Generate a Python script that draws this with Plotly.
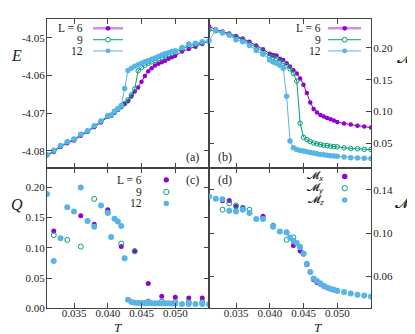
import plotly.graph_objects as go

PURPLE = "#9400D3"
GREEN = "#009E73"
BLUE = "#56B4E9"
FRAME = "#444444"
FONT = "Liberation Serif"
MFONT = "DejaVu Sans"

W, H = 415, 334

# common temperature grid
T = [0.031, 0.032, 0.033, 0.034, 0.035, 0.036, 0.037, 0.038, 0.039, 0.040,
     0.0405, 0.041, 0.0415, 0.042, 0.0425, 0.043, 0.0435, 0.044, 0.0445, 0.045,
     0.0455, 0.046, 0.0465, 0.047, 0.0475, 0.048, 0.0485, 0.049, 0.0495, 0.050,
     0.051, 0.052, 0.053, 0.054, 0.055]

# (a) energy
E6 = [-4.0812, -4.0803, -4.0790, -4.0780, -4.0773, -4.0760, -4.0750, -4.0738, -4.0725, -4.0710,
      -4.0707, -4.0699, -4.0692, -4.0684, -4.0676, -4.0669, -4.0656, -4.0643, -4.0632, -4.0617,
      -4.0602, -4.0589, -4.0581, -4.0574, -4.0569, -4.0565, -4.0561, -4.0556, -4.0552, -4.0548,
      -4.0537, -4.0530, -4.0524, -4.0517, -4.0509]
E9 = [-4.0811, -4.0800, -4.0788, -4.0777, -4.0770, -4.0757, -4.0748, -4.0735, -4.0722, -4.0708,
      -4.0706, -4.0697, -4.0690, -4.0682, -4.0675, -4.0665, -4.0652, -4.0636, -4.0588, -4.0579,
      -4.0573, -4.0568, -4.0564, -4.0560, -4.0556, -4.0552, -4.0548, -4.0545, -4.0542, -4.0539,
      -4.0530, -4.0522, -4.0518, -4.0514, -4.0510]
E12 = [-4.0811, -4.0799, -4.0786, -4.0776, -4.0769, -4.0756, -4.0747, -4.0734, -4.0721, -4.0707,
       -4.0705, -4.0695, -4.0688, -4.0680, -4.0635, -4.0587, -4.0581, -4.0576, -4.0572, -4.0568,
       -4.0564, -4.0561, -4.0557, -4.0554, -4.0550, -4.0546, -4.0543, -4.0540, -4.0537, -4.0535,
       -4.0526, -4.0517, -4.0515, -4.0511, -4.0509]

# (b) magnetisation
M6 = [0.234, 0.229, 0.226, 0.223, 0.219, 0.215, 0.210, 0.204, 0.198, 0.191,
      0.189, 0.188, 0.183, 0.181, 0.176, 0.171, 0.165, 0.160, 0.152, 0.142,
      0.129, 0.114, 0.104, 0.0985, 0.0946, 0.092, 0.0897, 0.0877, 0.0856, 0.0835,
      0.081, 0.0794, 0.0773, 0.0763, 0.0746]
M9 = [0.229, 0.227, 0.224, 0.221, 0.217, 0.213, 0.207, 0.201, 0.195, 0.187,
      0.185, 0.183, 0.179, 0.176, 0.172, 0.167, 0.160, 0.148, 0.0814, 0.0592,
      0.0556, 0.0525, 0.0504, 0.0489, 0.0478, 0.0467, 0.0463, 0.0452, 0.0447, 0.0443,
      0.0427, 0.0416, 0.0412, 0.0404, 0.0400]
M12 = [0.212, 0.228, 0.224, 0.220, 0.213, 0.210, 0.204, 0.196, 0.190, 0.181,
       0.178, 0.176, 0.173, 0.168, 0.124, 0.0535, 0.0427, 0.0400, 0.0386, 0.0375,
       0.0366, 0.0355, 0.0345, 0.0335, 0.0323, 0.0316, 0.0310, 0.0303, 0.0298, 0.0293,
       0.0282, 0.0272, 0.0267, 0.0262, 0.0257]

# (c) Q
Q6_T = [0.032, 0.036, 0.038, 0.040, 0.042, 0.044, 0.046, 0.048, 0.050, 0.052, 0.054]
Q6 = [0.128, 0.153, 0.139, 0.163, 0.102, 0.095, 0.041, 0.020, 0.018, 0.017, 0.017]
Q9_T = [0.032, 0.034, 0.036, 0.038, 0.040, 0.042, 0.044, 0.046, 0.048, 0.050, 0.052, 0.054]
Q9 = [0.121, 0.113, 0.102, 0.181, 0.159, 0.107, 0.094, 0.011, 0.011, 0.010, 0.010, 0.010]
Q12 = [0.189, 0.078, 0.116, 0.167, 0.160, 0.200, 0.1445, 0.135, 0.170, 0.1575,
       0.118, 0.148, 0.1435, 0.136, 0.0826, 0.014, 0.0104, 0.009, 0.0085, 0.0085,
       0.0085, 0.0085, 0.008, 0.008, 0.008, 0.008, 0.008, 0.008, 0.0078, 0.0078,
       0.007, 0.007, 0.0068, 0.0068, 0.0065]

# (d) components
MZ_T = [0.031, 0.032, 0.033, 0.034, 0.035, 0.036, 0.037, 0.038, 0.039, 0.0405,
        0.0415, 0.0425, 0.043, 0.0435, 0.044, 0.0445, 0.045, 0.0455, 0.046, 0.0465,
        0.047, 0.0475, 0.048, 0.0485, 0.049, 0.0495, 0.050, 0.051, 0.052, 0.053,
        0.054, 0.055]
MZ = [0.1337, 0.1316, 0.1312, 0.1207, 0.1200, 0.1216, 0.1186, 0.1131, 0.1131, 0.1059,
      0.1014, 0.1005, 0.0959, 0.0930, 0.0909, 0.0869, 0.0809, 0.0718, 0.0642, 0.0582,
      0.0557, 0.0537, 0.0515, 0.0497, 0.0486, 0.0477, 0.0468, 0.0456, 0.0443, 0.0432,
      0.0425, 0.0416]
MX_T = [0.033, 0.034, 0.035, 0.036, 0.039, 0.0425, 0.0435, 0.0445, 0.045, 0.0455,
        0.046, 0.0465, 0.047, 0.0475, 0.048, 0.0485, 0.049, 0.0495, 0.050]
MX = [0.1298, 0.1300, 0.1246, 0.1237, 0.1156, 0.1010, 0.0886, 0.0835, 0.0815, 0.0710,
      0.0640, 0.0570, 0.0545, 0.0528, 0.0510, 0.0495, 0.0484, 0.0475, 0.0466]
MY_T = [0.033, 0.034, 0.035, 0.036, 0.037, 0.0405, 0.0425, 0.0435, 0.0445, 0.045]
MY = [0.1216, 0.1275, 0.1255, 0.1225, 0.1215, 0.1068, 0.0938, 0.0960, 0.0872, 0.0810]

XTICKS = [0.035, 0.040, 0.045, 0.050]
XTICKTEXT = ["0.035", "0.040", "0.045", "0.050"]
ETICKS = [-4.08, -4.07, -4.06, -4.05]
ETICKTEXT = ["-4.08", "-4.07", "-4.06", "-4.05"]
MTICKS = [0.05, 0.10, 0.15, 0.20]
QTICKS = [0.00, 0.05, 0.10, 0.15, 0.20]
MITICKS = [0.06, 0.10, 0.14]


def px_x(p):
    return p / W


def px_y(p):
    return 1 - p / H


XL = [px_x(39), px_x(201)]
XR = [px_x(201), px_x(363)]
YT = [px_y(163), px_y(11)]
YB = [px_y(305.7), px_y(163)]

fig = go.Figure()


def line_trace(x, y, color, sym, size, xa, ya, lw=1.0):
    is_open = sym.endswith("open")
    return go.Scatter(
        x=x, y=y, mode="lines+markers", xaxis=xa, yaxis=ya, showlegend=False,
        line=dict(color=color, width=lw),
        marker=dict(symbol=sym, size=size, color=color,
                    line=dict(width=1 if is_open else 0, color=color)),
    )


def pts_trace(x, y, color, sym, size, xa, ya):
    is_open = sym.endswith("open")
    return go.Scatter(
        x=x, y=y, mode="markers", xaxis=xa, yaxis=ya, showlegend=False,
        marker=dict(symbol=sym, size=size, color=color,
                    line=dict(width=1 if is_open else 0, color=color)),
    )


# (a)
fig.add_trace(line_trace(T, E6, PURPLE, "circle", 4.5, "x", "y"))
fig.add_trace(line_trace(T, E9, GREEN, "circle-open", 4.5, "x", "y"))
fig.add_trace(line_trace(T, E12, BLUE, "circle", 5.5, "x", "y"))
# (b)
fig.add_trace(line_trace(T, M6, PURPLE, "circle", 4.5, "x2", "y2"))
fig.add_trace(line_trace(T, M9, GREEN, "circle-open", 4.5, "x2", "y2"))
fig.add_trace(line_trace(T, M12, BLUE, "circle", 5.5, "x2", "y2"))
# (c)
fig.add_trace(pts_trace(Q6_T, Q6, PURPLE, "circle", 5, "x3", "y3"))
fig.add_trace(pts_trace(Q9_T, Q9, GREEN, "circle-open", 5, "x3", "y3"))
fig.add_trace(pts_trace(T, Q12, BLUE, "circle", 6, "x3", "y3"))
# (d)
fig.add_trace(pts_trace(MX_T, MX, PURPLE, "circle", 5, "x4", "y4"))
fig.add_trace(pts_trace(MY_T, MY, GREEN, "circle-open", 5, "x4", "y4"))
fig.add_trace(pts_trace(MZ_T, MZ, BLUE, "circle", 6, "x4", "y4"))

axis_style = dict(
    showline=True, linecolor=FRAME, linewidth=1, mirror="ticks",
    ticks="inside", ticklen=5, tickcolor=FRAME, tickwidth=1,
    showgrid=False, zeroline=False,
    tickfont=dict(family=FONT, size=11, color="#222"),
)

fig.update_layout(
    width=W, height=H,
    margin=dict(l=0, r=0, t=0, b=0),
    paper_bgcolor="white", plot_bgcolor="white",
    font=dict(family=FONT, size=11, color="#222"),
    xaxis=dict(domain=XL, anchor="y", range=[0.031, 0.055], tickvals=XTICKS,
               showticklabels=False, **axis_style),
    yaxis=dict(domain=YT, anchor="x", range=[-4.0846, -4.045], tickvals=ETICKS,
               ticktext=ETICKTEXT, ticklabelstandoff=-1, **axis_style),
    xaxis2=dict(domain=XR, anchor="y2", range=[0.031, 0.055], tickvals=XTICKS,
                showticklabels=False, **axis_style),
    yaxis2=dict(domain=YT, anchor="x2", side="right", range=[0.0108, 0.246],
                tickvals=MTICKS, tickformat=".2f", ticklabelstandoff=-1, **axis_style),
    xaxis3=dict(domain=XL, anchor="y3", range=[0.031, 0.055], tickvals=XTICKS,
                ticktext=XTICKTEXT, ticklabelstandoff=-5, **axis_style),
    yaxis3=dict(domain=YB, anchor="x3", range=[0, 0.232], tickvals=QTICKS,
                tickformat=".2f", ticklabelstandoff=-1, **axis_style),
    xaxis4=dict(domain=XR, anchor="y4", range=[0.031, 0.055], tickvals=XTICKS,
                ticktext=XTICKTEXT, ticklabelstandoff=-5, **axis_style),
    yaxis4=dict(domain=YB, anchor="x4", side="right", range=[0.0307, 0.160],
                tickvals=MITICKS, tickformat=".2f", ticklabelstandoff=-1, **axis_style),
)

ann = []


def text(x, y, s, size=12, xanchor="center", family=FONT):
    ann.append(dict(x=px_x(x), y=px_y(y), xref="paper", yref="paper", text=s,
                    showarrow=False, xanchor=xanchor, yanchor="middle",
                    font=dict(family=family, size=size, color="#222")))


shapes = []


def key(xc, y, color, open_=False, x0=None, x1=None, lw=1.0, r=2.4):
    if x0 is not None:
        shapes.append(dict(type="line", xref="paper", yref="paper",
                           x0=px_x(x0), x1=px_x(x1), y0=px_y(y), y1=px_y(y),
                           line=dict(color=color, width=lw)))
    shapes.append(dict(type="circle", xref="paper", yref="paper",
                       x0=px_x(xc - r), x1=px_x(xc + r), y0=px_y(y - r), y1=px_y(y + r),
                       fillcolor="white" if open_ else color,
                       line=dict(color=color, width=1 if open_ else 0)))


LEG_ROWS = [20.7, 32.3, 43.7]
LEG_LABELS = ["L = 6", "9", "12"]
LEG_COLORS = [PURPLE, GREEN, BLUE]
LEG_OPEN = [False, True, False]
LEG_LINE = ["rgba(148,0,211,0.45)", GREEN, BLUE]

for i in range(3):
    # (a)
    text(77, LEG_ROWS[i], LEG_LABELS[i], 11.5, "right")
    key(100, LEG_ROWS[i], LEG_COLORS[i], LEG_OPEN[i], 85, 115,
        2.5 if i == 0 else 1.0)
    # (b)
    text(315, LEG_ROWS[i], LEG_LABELS[i], 11.5, "right")
    key(336.7, LEG_ROWS[i], LEG_COLORS[i], LEG_OPEN[i], 320, 353,
        2.5 if i == 0 else 1.0)
    shapes[-2]["line"]["color"] = LEG_LINE[i]
    shapes[-4]["line"]["color"] = LEG_LINE[i]

C_ROWS = [175, 187.3, 199]
for i in range(3):
    text(136, C_ROWS[i], LEG_LABELS[i], 11.5, "right")
    key(158.3, C_ROWS[i], LEG_COLORS[i], LEG_OPEN[i], r=2.7)

D_ROWS = [171.5, 183.5, 195.5]
D_LABELS = ["𝓜<sub><i>x</i></sub>", "𝓜<sub><i>y</i></sub>", "𝓜<sub><i>z</i></sub>"]
for i in range(3):
    text(318, D_ROWS[i], D_LABELS[i], 10.5, "right", MFONT)
    key(336.7, D_ROWS[i], LEG_COLORS[i], LEG_OPEN[i], r=2.7)

text(184.5, 152, "(a)", 12)
text(217, 152, "(b)", 12)
text(184, 175, "(c)", 12)
text(217, 175, "(d)", 12)

text(8, 48, "<i>E</i>", 16)
text(399, 50, "𝓜", 16, family=MFONT)
text(9, 200, "<i>Q</i>", 16)
text(398, 199, "𝓜<sub><i>i</i></sub>", 16, family=MFONT)
text(110, 325, "<i>T</i>", 13)
text(310, 325, "<i>T</i>", 13)

fig.update_layout(annotations=ann, shapes=shapes)

fig.write_html("out.html")
